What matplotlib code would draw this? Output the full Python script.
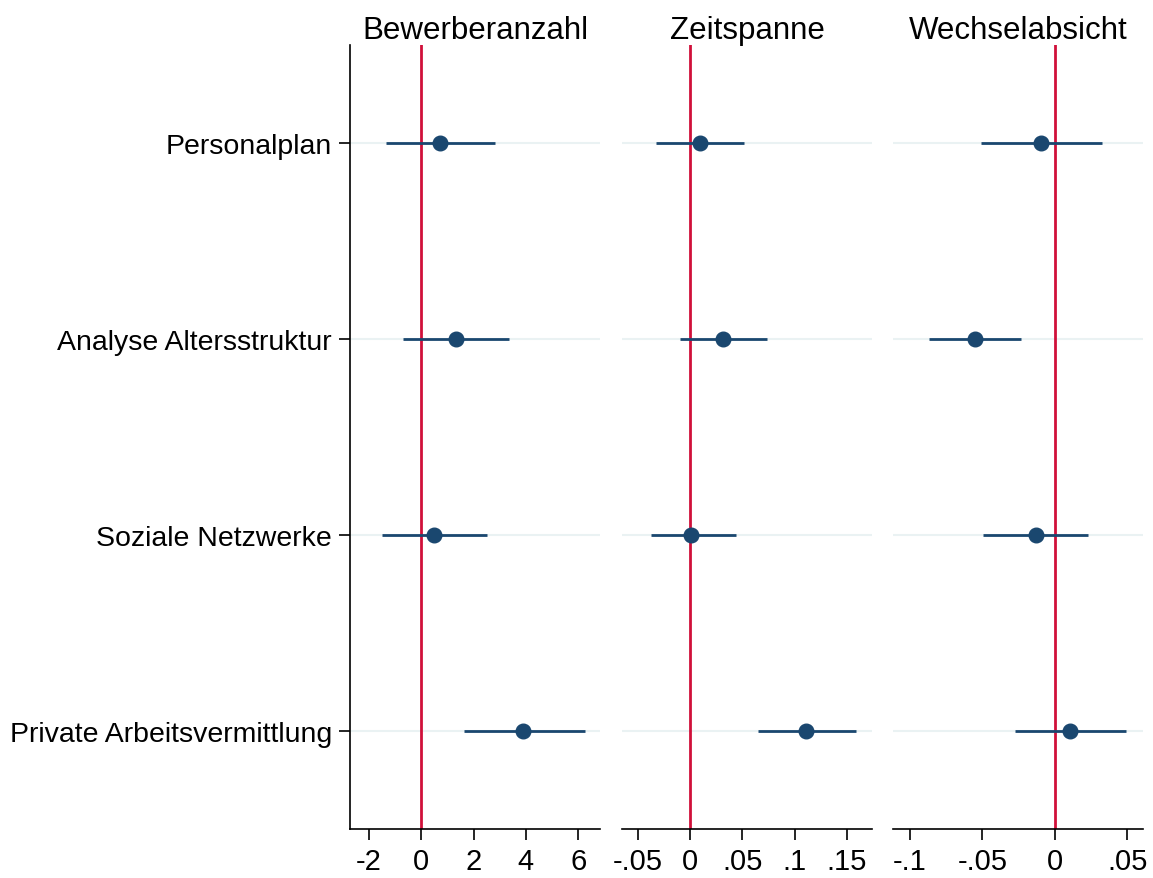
import numpy as np
import matplotlib.pyplot as plt

plt.rcParams['font.family'] = ['Liberation Sans', 'DejaVu Sans']

# === Data ===
labels = ["Personalplan", "Analyse Altersstruktur", "Soziale Netzwerke", "Private Arbeitsvermittlung"]
titles = ["Bewerberanzahl", "Zeitspanne", "Wechselabsicht"]

coef_bew = [0.72, 1.33, 0.49, 3.90]
lo_bew = [-1.33, -0.68, -1.48, 1.63]
hi_bew = [2.80, 3.37, 2.50, 6.25]

coef_zeit = [0.0096, 0.0316, 0.001, 0.111]
lo_zeit = [-0.0325, -0.0096, -0.038, 0.065]
hi_zeit = [0.0516, 0.0736, 0.044, 0.159]

coef_wech = [-0.0097, -0.0552, -0.0131, 0.0103]
lo_wech = [-0.051, -0.0869, -0.0497, -0.0276]
hi_wech = [0.0324, -0.0234, 0.0228, 0.049]

ticks_bew = [-2, 0, 2, 4, 6]
ticks_zeit = [-0.05, 0, 0.05, 0.1, 0.15]
ticks_wech = [-0.1, -0.05, 0, 0.05]
ticklabels_bew = ["-2", "0", "2", "4", "6"]
ticklabels_zeit = ["-.05", "0", ".05", ".1", ".15"]
ticklabels_wech = ["-.1", "-.05", "0", ".05"]

navy = "#1a476f"
red = "#d0103a"
grid = "#eaf2f3"

fig = plt.figure(figsize=(11.53, 8.79), dpi=100)
lefts = [350 / 1153, 622 / 1153, 893 / 1153]
w = 250 / 1153
b = 1 - 830 / 879
h = 784 / 879

panels = [
    (coef_bew, lo_bew, hi_bew, ticks_bew, ticklabels_bew, (-2.72, 6.83)),
    (coef_zeit, lo_zeit, hi_zeit, ticks_zeit, ticklabels_zeit, (-0.0653, 0.174)),
    (coef_wech, lo_wech, hi_wech, ticks_wech, ticklabels_wech, (-0.1117, 0.061)),
]

ypos = np.arange(1, len(labels) + 1)

for i, (coef, lo, hi, ticks, tlabels, xlim) in enumerate(panels):
    ax = fig.add_axes([lefts[i], b, w, h])
    for y in ypos:
        ax.axhline(y, color=grid, lw=1.5, zorder=0)
    ax.axvline(0, color=red, lw=2, zorder=1)
    ax.hlines(ypos, lo, hi, color=navy, lw=2, zorder=2)
    ax.plot(coef, ypos, 'o', color=navy, ms=10.5, zorder=3)
    ax.set_xlim(*xlim)
    ax.set_ylim(4.5, 0.5)
    ax.set_xticks(ticks)
    ax.set_xticklabels(tlabels, fontsize=21)
    ax.tick_params(axis='x', length=8, width=1.2, pad=5)
    ax.set_title(titles[i], fontsize=22.5, pad=4)
    for s in ['top', 'right']:
        ax.spines[s].set_visible(False)
    ax.spines['bottom'].set_linewidth(1.2)
    if i == 0:
        ax.set_yticks(ypos)
        ax.set_yticklabels(labels, fontsize=20.5)
        ax.tick_params(axis='y', length=8, width=1.2, pad=5)
        ax.spines['left'].set_linewidth(1.2)
    else:
        ax.spines['left'].set_visible(False)
        ax.set_yticks([])

fig.savefig("out.png", dpi=100)
